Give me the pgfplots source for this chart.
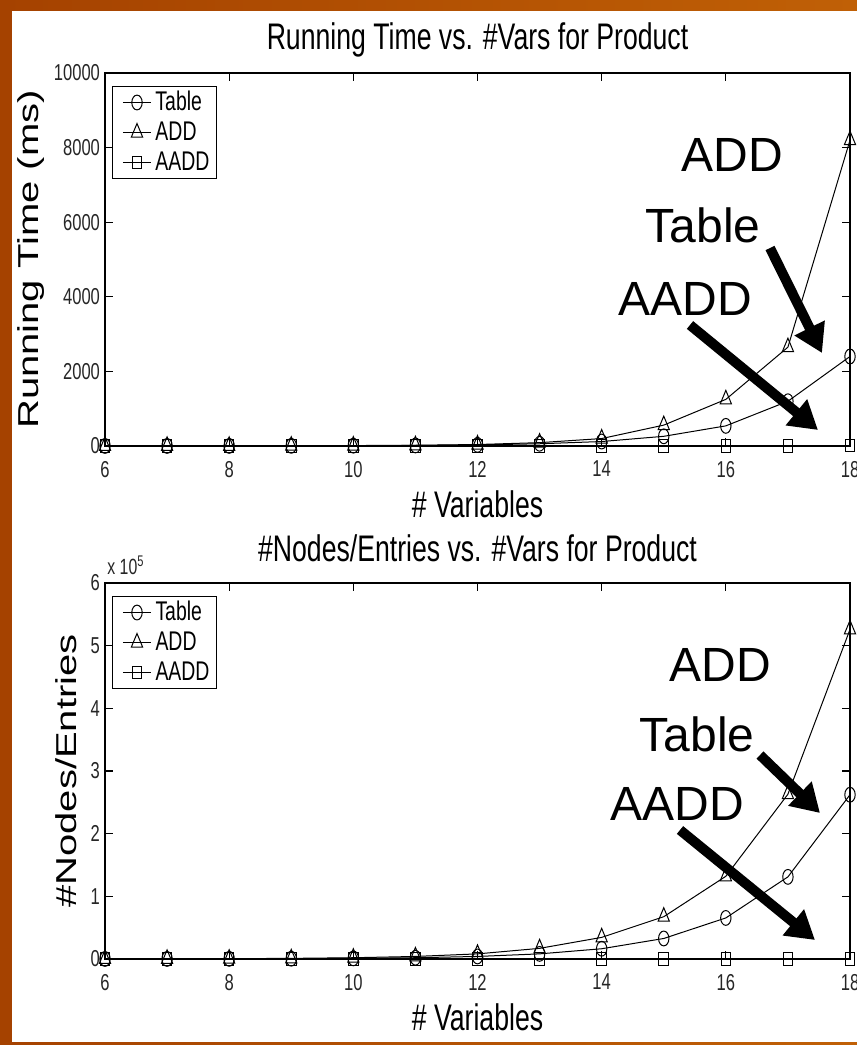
\documentclass[border=0pt]{standalone}
\usepackage{pgfplots}
\pgfplotsset{compat=1.18}
\usepackage{graphicx}
\usepackage{fontspec}
\setmainfont{Liberation Sans}
\newfontfamily\nar[FakeStretch=0.72]{Liberation Sans}
\usetikzlibrary{arrows.meta}

\definecolor{slidedark}{RGB}{165,66,0}
\definecolor{slidelight}{RGB}{192,96,6}

% Running time (ms) against number of variables
\pgfplotstableread{
n    tab   add   aadd
6    1     2     1
7    2     3     1
8    3     5     2
9    5     8     2
10   9     12    3
11   15    20    3
12   30    40    4
13   60    90    5
14   120   200   6
15   260   560   7
16   540   1250  8
17   1200  2650  10
18   2400  8200  12
}\timetable

% Number of nodes / table entries against number of variables
\pgfplotstableread{
n    tab     add     aadd
6    64      127     20
7    128     255     25
8    256     511     30
9    512     1023    36
10   1024    2047    42
11   2048    4095    49
12   4096    8191    56
13   8192    17000   64
14   16384   34500   72
15   32768   67500   81
16   65536   132000  90
17   131072  263000  100
18   262144  526000  110
}\nodetable

\pgfplotsset{
  prod/.style={
    scale only axis, width=372.5pt, clip=false,
    xmin=6, xmax=18, xtick={6,8,...,18},
    axis line style={line width=0.6pt},
    major tick length=4pt,
    tick style={line width=0.6pt, black},
    tick label style={font=\nar\fontsize{11.5}{13}\selectfont, text=black!85},
    /pgf/number format/assume math mode=true,
    /pgf/number format/1000 sep={},
    xticklabel style={yshift=-4pt},
    yticklabel style={xshift=1pt},
    every axis title/.style={at={(rel axis cs:0.5,1)}, yshift=11pt, anchor=base,
      font=\nar\fontsize{18.5}{21}\selectfont},
    every axis x label/.style={at={(rel axis cs:0.5,0)}, yshift=-35.5pt, anchor=base,
      font=\nar\fontsize{18.5}{21}\selectfont},
    every axis y label/.style={at={(rel axis cs:0,0.5)}, xshift=-37pt, rotate=90, anchor=center,
      font=\fontsize{20}{24}\selectfont},
    legend style={at={(rel axis cs:0,1)}, anchor=north west, xshift=3.5pt, yshift=-6.5pt,
      draw=black, line width=0.5pt, inner xsep=1.5pt, inner ysep=2.5pt,
      font=\nar\fontsize{13.5}{15}\selectfont, row sep=4pt,
      nodes={inner xsep=2pt, inner ysep=0pt, text height=9.5pt, text depth=1.5pt}},
    legend cell align=left,
    legend image code/.code={\path (0pt,0pt);
      \draw[mark repeat=2, mark phase=2, line width=0.5pt]
      plot coordinates {(3.5pt,0pt) (10.5pt,0pt) (17.5pt,0pt)};},
    every axis plot/.append style={black, line width=0.5pt},
  },
  tabmark/.style={mark=o, mark size=3.7pt, mark options={xscale=0.7, solid}},
  addmark/.style={mark=triangle, mark size=4.5pt, mark options={xscale=0.72, solid}},
  aaddmark/.style={mark=square, mark size=3.2pt, mark options={xscale=0.75, solid}},
}

\begin{document}
\begin{tikzpicture}
\clip (0,0) rectangle (428.5pt,-522.5pt);
\shade[left color=slidedark, right color=slidelight] (0,0) rectangle (428.5pt,-522.5pt);
\fill[white] (6pt,-5.5pt) rectangle (428.5pt,-521pt);

\begin{axis}[prod, at={(52.5pt,-223pt)}, anchor=south west, height=186.5pt,
  ymin=0, ymax=10000, ytick={0,2000,...,10000}, scaled y ticks=false,
  title style={yshift=1pt},
  title={Running Time vs. \#Vars for Product},
  xlabel={\# Variables},
  ylabel={\scalebox{1}[0.72]{Running Time (ms)}}]
\addplot[tabmark] table[x=n, y=tab] {\timetable};
\addlegendentry{Table}
\addplot[addmark] table[x=n, y=add] {\timetable};
\addlegendentry{ADD}
\addplot[aaddmark] table[x=n, y=aadd] {\timetable};
\addlegendentry{AADD}
\end{axis}

\begin{axis}[prod, at={(52.5pt,-479.5pt)}, anchor=south west, height=188pt,
  ymin=0, ymax=600000, ytick={0,100000,...,600000},
  scaled y ticks=base 10:-5,
  ytick scale label code/.code={x 10\textsuperscript{5}},
  every y tick scale label/.style={at={(rel axis cs:0,1)}, anchor=south west,
    inner sep=0pt, yshift=4pt, font=\nar\fontsize{11}{13}\selectfont, text=black!85},
  ylabel style={yshift=-17.5pt},
  title={\#Nodes/Entries vs. \#Vars for Product},
  xlabel={\# Variables},
  ylabel={\scalebox{1}[0.72]{\#Nodes/Entries}}]
\addplot[tabmark] table[x=n, y=tab] {\nodetable};
\addlegendentry{Table}
\addplot[addmark] table[x=n, y=add] {\nodetable};
\addlegendentry{ADD}
\addplot[aaddmark] table[x=n, y=aadd] {\nodetable};
\addlegendentry{AADD}
\end{axis}

% call-out labels with arrows
\begin{scope}[font=\fontsize{24}{28}\selectfont]
\node at (366pt,-77.5pt) {ADD};
\node at (351.5pt,-112.5pt) {Table};
\node at (342.5pt,-149.5pt) {AADD};
\node at (360pt,-332.5pt) {ADD};
\node at (348.5pt,-367pt) {Table};
\node at (338.5pt,-402pt) {AADD};
\end{scope}
\begin{scope}[line width=5pt, -{Triangle[length=14pt, width=16pt]}]
\draw (385pt,-124pt) -- (411pt,-176.5pt);
\draw (345pt,-162.5pt) -- (409pt,-215pt);
\draw (380pt,-377.5pt) -- (410pt,-406.5pt);
\draw (340pt,-415pt) -- (407.5pt,-470pt);
\end{scope}
\end{tikzpicture}
\end{document}
